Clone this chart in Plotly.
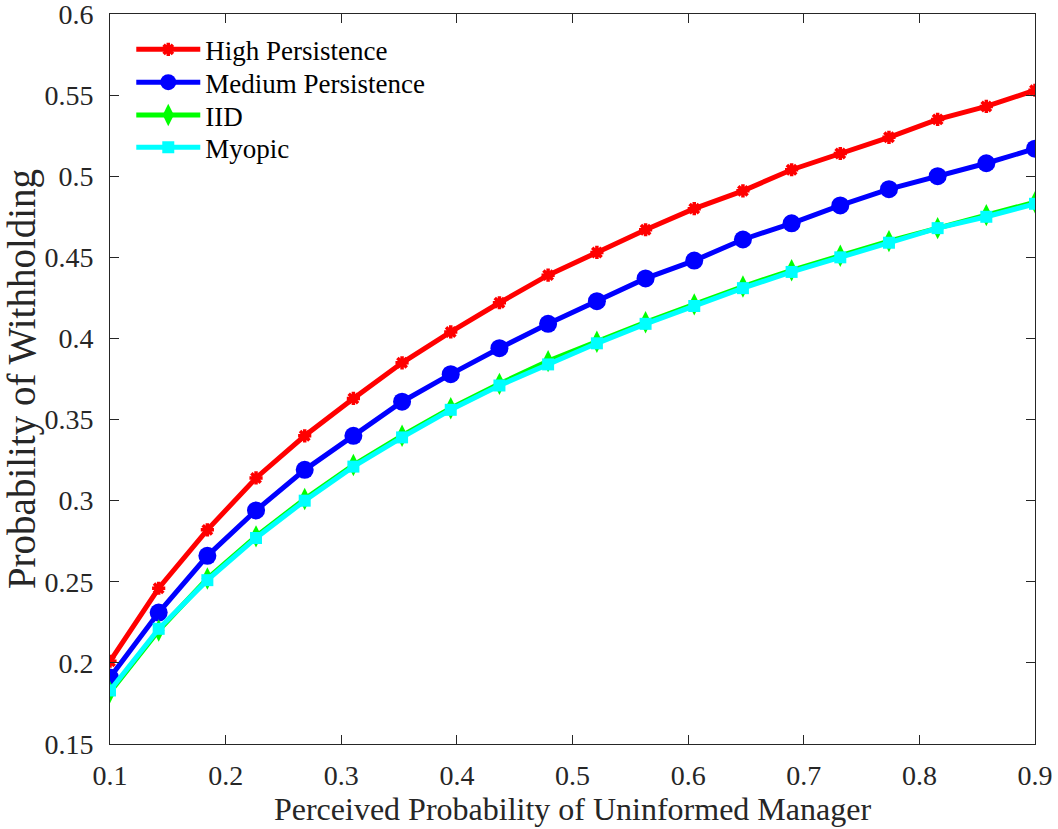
import plotly.graph_objects as go

x_vals = [0.1, 0.1421, 0.1842, 0.2263, 0.2684, 0.3105, 0.3526, 0.3947, 0.4368, 0.4789,
          0.5211, 0.5632, 0.6053, 0.6474, 0.6895, 0.7316, 0.7737, 0.8158, 0.8579, 0.9]

high_persistence = [0.201, 0.246, 0.282, 0.314, 0.340, 0.363, 0.385, 0.404, 0.422, 0.439,
                    0.453, 0.467, 0.480, 0.491, 0.504, 0.514, 0.524, 0.535, 0.543, 0.553]
medium_persistence = [0.191, 0.231, 0.266, 0.294, 0.319, 0.340, 0.361, 0.378, 0.394, 0.409,
                      0.423, 0.437, 0.448, 0.461, 0.471, 0.482, 0.492, 0.500, 0.508, 0.517]
iid = [0.182, 0.220, 0.252, 0.278, 0.301, 0.322, 0.340, 0.357, 0.372, 0.386,
       0.398, 0.410, 0.421, 0.432, 0.442, 0.451, 0.460, 0.468, 0.476, 0.484]
myopic = [0.183, 0.221, 0.251, 0.277, 0.300, 0.321, 0.339, 0.356, 0.371, 0.384,
          0.397, 0.409, 0.420, 0.431, 0.441, 0.450, 0.459, 0.468, 0.475, 0.483]

names = ["High Persistence", "Medium Persistence", "IID", "Myopic"]
x_ticks = [0.1, 0.2, 0.3, 0.4, 0.5, 0.6, 0.7, 0.8, 0.9]
y_ticks = [0.15, 0.2, 0.25, 0.3, 0.35, 0.4, 0.45, 0.5, 0.55, 0.6]

font_family = "Liberation Serif, Times New Roman, serif"
text_color = "#262626"
fig = go.Figure()

fig.add_trace(go.Scatter(x=x_vals, y=high_persistence, name=names[0], mode="lines+markers",
                         legend="legend",
                         line=dict(color="#ff0000", width=5),
                         marker=dict(symbol="asterisk-open", size=11, color="#ff0000",
                                     line=dict(color="#ff0000", width=3.5))))
fig.add_trace(go.Scatter(x=x_vals, y=medium_persistence, name=names[1], mode="lines+markers",
                         legend="legend2",
                         line=dict(color="#0000ff", width=5),
                         marker=dict(symbol="circle", size=18, color="#0000ff")))
fig.add_trace(go.Scatter(x=x_vals, y=iid, name=names[2], mode="lines+markers",
                         legend="legend3",
                         line=dict(color="#00ff00", width=5),
                         marker=dict(symbol="diamond-tall", size=16, color="#00ff00")))
fig.add_trace(go.Scatter(x=x_vals, y=myopic, name=names[3], mode="lines+markers",
                         legend="legend4",
                         line=dict(color="#00ffff", width=5),
                         marker=dict(symbol="square", size=12, color="#00ffff")))

axis_common = dict(
    showline=True, linecolor=text_color, linewidth=1, mirror="ticks",
    ticks="inside", ticklen=9, tickcolor=text_color, tickwidth=1,
    showgrid=False, zeroline=False, automargin=False, ticklabeloverflow="allow",
    tickfont=dict(family=font_family, size=28, color=text_color),
)


def legend_box(ypos):
    return dict(x=0.023, y=ypos, xanchor="left", yanchor="middle",
                bgcolor="rgba(255,255,255,0)", borderwidth=0,
                font=dict(family=font_family, size=27, color="#000000"),
                itemwidth=64)


fig.update_layout(
    width=1058, height=829,
    margin=dict(l=110, r=23, t=14, b=85),
    paper_bgcolor="white", plot_bgcolor="white",
    font=dict(family=font_family, color=text_color),
    xaxis=dict(range=[0.1, 0.9], tickvals=x_ticks, ticktext=[f"{v:g}" for v in x_ticks],
               ticklabelstandoff=6,
               title=dict(text="Perceived Probability of Uninformed Manager",
                          font=dict(family=font_family, size=32, color=text_color), standoff=8),
               **axis_common),
    yaxis=dict(range=[0.15, 0.6], tickvals=y_ticks, ticktext=[f"{v:g}" for v in y_ticks],
               ticklabelstandoff=10,
               title=dict(text="Probability of Withholding",
                          font=dict(family=font_family, size=39, color=text_color), standoff=6),
               **axis_common),
    legend=legend_box(0.951),
    legend2=legend_box(0.906),
    legend3=legend_box(0.861),
    legend4=legend_box(0.817),
    showlegend=True,
)

fig.write_html("out.html",
               config={"displayModeBar": False},
               post_script="document.body.style.margin='0';document.body.style.padding='0';"
                           "document.documentElement.style.overflow='hidden';")
